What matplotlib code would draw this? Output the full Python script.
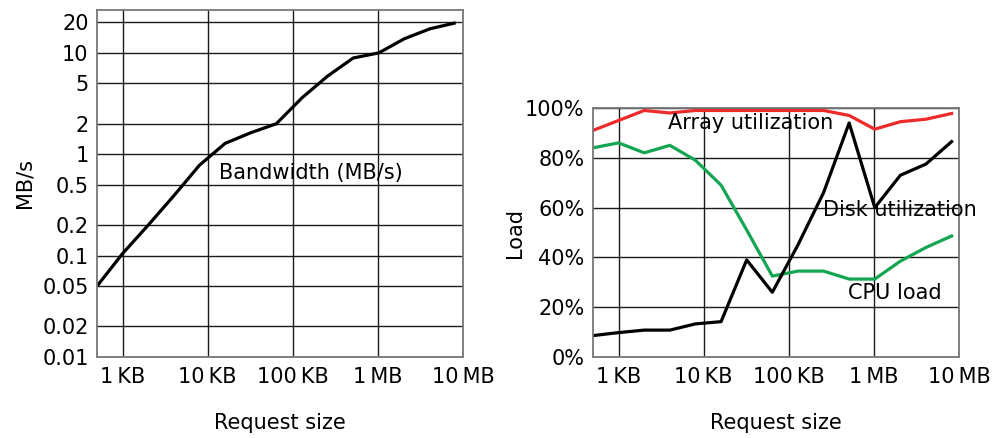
import matplotlib
matplotlib.use("Agg")
import matplotlib.pyplot as plt
from matplotlib.ticker import FixedLocator, FixedFormatter, NullLocator

plt.rcParams['font.family'] = ['DejaVu Sans']
plt.rcParams['font.size'] = 15

# Request sizes in KB (512 B ... 8 MB)
sizes_kb = [0.5, 1, 2, 4, 8, 16, 32, 64, 128, 256, 512, 1024, 2048, 4096, 8192]

bandwidth_mbs = [0.05, 0.105, 0.2, 0.39, 0.78, 1.28, 1.63, 2.0, 3.6, 5.9, 8.9, 10.0, 13.8, 17.3, 19.8]

array_util = [91, 95, 99, 98, 99, 99, 99, 99, 99, 99, 97, 91.5, 94.5, 95.5, 97.8]
cpu_load = [84, 86, 82, 85, 79, 69, 51, 32.5, 34.5, 34.5, 31.3, 31.3, 38.5, 44, 48.6]
disk_util = [8.6, 9.8, 10.8, 10.8, 13.3, 14.2, 39, 26, 45, 66, 94, 60, 73, 77.5, 86.5]

x_ticks = [1, 10, 100, 1000, 10000]
x_labels = ["1\u2009KB", "10\u2009KB", "100\u2009KB", "1\u2009MB", "10\u2009MB"]

bw_ticks = [0.01, 0.02, 0.05, 0.1, 0.2, 0.5, 1, 2, 5, 10, 20]
bw_labels = ["0.01", "0.02", "0.05", "0.1", "0.2", "0.5", "1", "2", "5", "10", "20"]

load_ticks = [0, 20, 40, 60, 80, 100]
load_labels = ["0%", "20%", "40%", "60%", "80%", "100%"]

W, H = 993, 438
fig = plt.figure(figsize=(W / 100, H / 100), dpi=100)

def frac(x0, x1, ytop, ybot):
    return [x0 / W, 1 - ybot / H, (x1 - x0) / W, (ybot - ytop) / H]

ax1 = fig.add_axes(frac(97, 463, 10, 357))
ax2 = fig.add_axes(frac(593, 959, 108, 357))

grid_kw = dict(color="#1a1a1a", linewidth=1.0)

for ax in (ax1, ax2):
    ax.set_xscale("log")
    ax.set_xlim(0.5, 10000)
    ax.xaxis.set_major_locator(FixedLocator(x_ticks))
    ax.xaxis.set_major_formatter(FixedFormatter(x_labels))
    ax.xaxis.set_minor_locator(NullLocator())
    ax.tick_params(axis="both", length=0, labelsize=15)
    ax.tick_params(axis="x", pad=7)
    ax.tick_params(axis="y", pad=6)
    for s in ax.spines.values():
        s.set_color("#777777")
        s.set_linewidth(1.3)
    ax.grid(True, which="major", **grid_kw)
    ax.set_axisbelow(True)
    ax.set_xlabel("Request size", fontsize=15)

# Left: bandwidth
ax1.set_yscale("log")
ax1.set_ylim(0.01, 26.5)
ax1.yaxis.set_major_locator(FixedLocator(bw_ticks))
ax1.yaxis.set_major_formatter(FixedFormatter(bw_labels))
ax1.yaxis.set_minor_locator(NullLocator())
ax1.plot(sizes_kb, bandwidth_mbs, color="black", linewidth=2.3, solid_capstyle="butt")
ax1.text(0.332, 0.53, "Bandwidth (MB/s)", transform=ax1.transAxes, fontsize=15,
         ha="left", va="center")
ax1.set_ylabel("MB/s", fontsize=15)
ax1.yaxis.set_label_coords(-0.172, 0.5)
ax1.xaxis.set_label_coords(0.5, -0.19)
ax1.xaxis.label.set_verticalalignment("center")

# Right: load
ax2.set_ylim(0, 100)
ax2.yaxis.set_major_locator(FixedLocator(load_ticks))
ax2.yaxis.set_major_formatter(FixedFormatter(load_labels))
ax2.plot(sizes_kb, array_util, color="#ee2a2a", linewidth=2.3)
ax2.plot(sizes_kb, cpu_load, color="#13a551", linewidth=2.3)
ax2.plot(sizes_kb, disk_util, color="black", linewidth=2.3)
ax2.text(0.205, 0.94, "Array utilization", transform=ax2.transAxes, fontsize=15,
         ha="left", va="center")
ax2.text(0.628, 0.59, "Disk utilization", transform=ax2.transAxes, fontsize=15,
         ha="left", va="center")
ax2.text(0.697, 0.258, "CPU load", transform=ax2.transAxes, fontsize=15,
         ha="left", va="center")
ax2.set_ylabel("Load", fontsize=15)
ax2.yaxis.set_label_coords(-0.186, 0.5)
ax2.xaxis.set_label_coords(0.5, -0.265)
ax2.xaxis.label.set_verticalalignment("center")

fig.savefig("out.png", dpi=100)
